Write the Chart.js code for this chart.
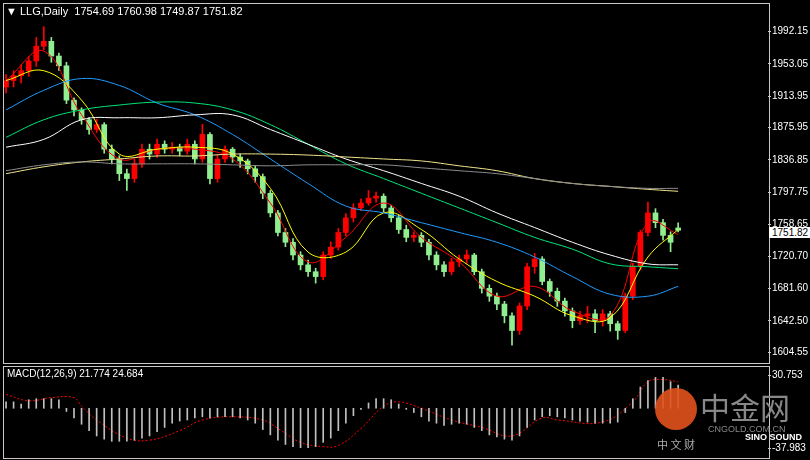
<!DOCTYPE html>
<html>
<head>
<meta charset="utf-8">
<script src="https://cdn.jsdelivr.net/npm/chart.js@4/dist/chart.umd.min.js"></script>
<style>
  body { margin: 0; background: #000; width: 810px; height: 460px; overflow: hidden; font-family: "Liberation Sans", Arial, sans-serif; }
  .wrap { position: absolute; left: 0; width: 810px; }
  .frame { position: absolute; border: 1px solid #c8c8c8; }
  .txt { position: absolute; color: #fff; font-size: 11px; white-space: pre; }
</style>
</head>
<body>
<div class="wrap" style="top:0;height:364px"><canvas id="priceChart"></canvas></div>
<div class="wrap" style="top:364px;height:96px"><canvas id="macdChart"></canvas></div>
<div class="frame" style="left:3px;top:3px;width:765px;height:359px"></div>
<div class="frame" style="left:3px;top:366px;width:765px;height:91px"></div>
<div class="txt" style="left:6px;top:5px">▼ LLG,Daily  1754.69 1760.98 1749.87 1751.82</div>
<div class="txt" style="left:7px;top:368px;font-size:10px">MACD(12,26,9) 21.774 24.684</div>
<div class="txt" style="left:769px;top:227px;background:#fff;color:#000;font-size:10px;padding:0 3px">1751.82</div>
<!-- watermark -->
<div style="position:absolute;left:655px;top:388px;width:42px;height:42px;border-radius:50%;background:#e2521d;opacity:.9"></div>
<div class="txt" style="left:700px;top:384px;font-size:30px;color:#888;font-family:'Noto Sans CJK SC'">中金网</div>
<div class="txt" style="left:708px;top:424px;font-size:9px;color:#888">CNGOLD.COM.CN</div>
<div class="txt" style="left:657px;top:436px;font-size:11px;color:#aaa;font-family:'Noto Sans CJK SC'">中 文 财</div>
<div class="txt" style="left:745px;top:432px;font-size:9px;color:#fff;font-weight:bold">SINO SOUND</div>

<script>
// daily OHLC, oldest first
const opens = [1925.0,1932.9,1938.8,1944.8,1956.6,1974.4,1980.3,1962.5,1950.7,1909.2,
  1897.4,1885.5,1873.7,1879.6,1849.9,1838.1,1820.3,1814.4,1832.2,1849.9,
  1844.0,1855.9,1849.9,1852.3,1847.6,1855.9,1838.1,1867.7,1814.4,1838.1,
  1849.9,1840.5,1835.7,1826.2,1816.8,1796.6,1772.9,1749.2,1737.4,1722.0,
  1710.1,1701.8,1695.9,1722.0,1731.5,1749.2,1767.0,1778.9,1784.8,1790.7,
  1793.1,1778.9,1767.0,1752.8,1743.3,1745.7,1737.4,1722.0,1710.1,1701.8,
  1713.7,1717.2,1722.0,1701.8,1681.7,1672.2,1662.7,1648.5,1630.7,1660.4,
  1707.8,1717.2,1690.0,1678.1,1666.3,1654.4,1642.6,1648.5,1650.9,1642.6,
  1650.9,1639.0,1630.7,1672.2,1707.8,1749.2,1772.9,1761.1,1745.7,1754.69];
const highs = [1940,1945,1952,1962,1985,1998,1985,1966,1955,1912,
  1900,1888,1886,1882,1855,1842,1826,1838,1856,1856,
  1862,1860,1858,1856,1862,1860,1880,1870,1843,1854,
  1852,1844,1838,1830,1820,1800,1776,1754,1742,1726,
  1716,1706,1726,1738,1754,1772,1784,1790,1800,1798,
  1796,1782,1770,1758,1750,1749,1741,1726,1714,1718,
  1722,1728,1724,1705,1686,1676,1666,1652,1664,1712,
  1724,1720,1693,1682,1670,1658,1654,1660,1656,1656,
  1654,1642,1676,1712,1752,1786,1778,1765,1750,1760.98];
const lows = [1918,1925,1930,1938,1950,1970,1955,1945,1905,1890,
  1880,1868,1870,1845,1832,1812,1800,1810,1828,1838,
  1840,1845,1845,1842,1844,1832,1834,1808,1810,1834,
  1834,1828,1820,1810,1790,1768,1745,1732,1716,1704,
  1696,1688,1692,1718,1728,1745,1762,1776,1782,1786,
  1774,1762,1748,1738,1738,1732,1716,1704,1696,1698,
  1708,1712,1698,1676,1666,1656,1640,1613,1626,1656,
  1700,1686,1672,1660,1648,1634,1638,1640,1628,1636,
  1630,1620,1628,1668,1704,1745,1755,1740,1726,1749.87];
const closes = [1932.9,1938.8,1944.8,1956.6,1974.4,1980.3,1962.5,1950.7,1909.2,1897.4,
  1885.5,1873.7,1879.6,1849.9,1838.1,1820.3,1814.4,1832.2,1849.9,1844.0,
  1855.9,1849.9,1852.3,1847.6,1855.9,1838.1,1867.7,1814.4,1838.1,1849.9,
  1840.5,1835.7,1826.2,1816.8,1796.6,1772.9,1749.2,1737.4,1722.0,1710.1,
  1701.8,1695.9,1722.0,1731.5,1749.2,1767.0,1778.9,1784.8,1790.7,1793.1,
  1778.9,1767.0,1752.8,1743.3,1745.7,1737.4,1722.0,1710.1,1701.8,1713.7,
  1717.2,1722.0,1701.8,1681.7,1672.2,1662.7,1648.5,1630.7,1660.4,1707.8,
  1717.2,1690.0,1678.1,1666.3,1654.4,1642.6,1648.5,1650.9,1642.6,1650.9,
  1639.0,1630.7,1672.2,1707.8,1749.2,1772.9,1761.1,1745.7,1737.4,1751.82];

// moving averages sampled at these bar indices
const maIdx = [0,5,10,15,20,25,30,35,40,45,50,55,60,65,70,75,80,85,89];
const maRed = [1932.9,1968.5,1891.4,1838.1,1849.9,1849.9,1838.1,1784.8,1713.7,1743.3,1784.8,1743.3,1713.7,1672.2,1684.1,1654.4,1648.5,1761.1,1746.9];
const maYellow = [1932.9,1944.8,1909.2,1844.0,1849.9,1852.3,1844.0,1802.6,1725.5,1725.5,1772.9,1752.8,1717.2,1690.0,1672.2,1648.5,1646.1,1719.6,1752.8];
const maBlue = [1897.4,1921.1,1935.3,1927.0,1905.7,1891.4,1867.7,1838.1,1808.5,1781.2,1772.9,1761.1,1749.2,1737.4,1719.6,1695.9,1674.6,1672.2,1684.1];
const maGreen = [1864.2,1885.5,1897.4,1903.3,1906.8,1905.7,1897.4,1879.6,1855.9,1832.2,1814.4,1796.6,1778.9,1761.1,1743.3,1729.1,1711.3,1707.8,1705.4];
const maWhite = [1852.3,1861.8,1885.5,1887.9,1887.9,1891.4,1891.4,1873.7,1855.9,1838.1,1823.9,1808.5,1793.1,1772.9,1755.2,1737.4,1722.0,1711.3,1710.1];
const maKhaki = [1820.3,1828.6,1834.5,1838.1,1841.7,1841.7,1844.0,1844.0,1842.8,1840.5,1838.1,1835.7,1829.8,1823.9,1814.4,1808.5,1804.9,1801.4,1799.0];
const maGray = [1823.9,1831.0,1834.5,1832.2,1832.2,1832.2,1831.0,1829.8,1831.0,1831.0,1831.0,1827.4,1823.9,1820.3,1814.4,1808.5,1804.9,1802.6,1802.6];

const priceTicks = [1992.15,1953.05,1913.95,1875.95,1836.85,1797.75,1758.65,1720.70,1681.60,1642.50,1604.55];

// MACD main (histogram) per bar and signal sampled
const macdHist = [6,6,4,8,9,9,9,8,-3,-9,
  -15,-21,-26,-29,-31,-31,-31,-30,-28,-26,
  -22,-18,-14,-12,-11,-9,-8,-9,-8,-8,
  -8,-9,-11,-14,-20,-25,-30,-34,-36,-37,
  -37,-36,-32,-28,-21,-14,-7,-1,5,9,
  9,8,4,-1,-4,-8,-12,-14,-16,-15,
  -14,-15,-18,-21,-25,-27,-29,-30,-26,-18,
  -11,-8,-7,-8,-9,-11,-12,-13,-14,-14,
  -14,-13,-4,9,20,26,29,29,25,21.774];
const sigIdx = [0,3,6,9,10,12,16,19,23,26,30,34,36,39,42,44,47,50,52,55,59,63,67,71,73,79,83,85,87,89];
const sigVals = [13,7,10,10,2,-11,-28,-30,-21,-11,-8,-11,-19,-32,-36,-35,-19,2,6,0,-11,-18,-26,-9,-11,-13,6,25,27,24.684];
const macdTicks = [30.753,-37.983];

const UP = '#ff0000', DOWN = '#90ee90';
const xMin = -0.27, xMax = 100.9;
const pts = (idx, vals) => idx.map((x, i) => ({ x, y: vals[i] }));
const barIdx = closes.map((_, i) => i);
const candleCol = closes.map((c, i) => c >= opens[i] ? UP : DOWN);

function maLine(vals, color) {
  return { type: 'line', data: pts(maIdx, vals), borderColor: color, borderWidth: 1,
    pointRadius: 0, tension: 0.4, fill: false };
}

function rightAxis(ticks, min, max, fmt) {
  return {
    position: 'right', min, max,
    afterFit: s => { s.width = 42; },
    afterBuildTicks: s => { s.ticks = ticks.map(v => ({ value: v })); },
    grid: { drawOnChartArea: false, color: '#c8c8c8', tickLength: 3 },
    border: { display: false },
    ticks: { color: '#fff', padding: 1, font: { size: 10, family: 'Liberation Sans' }, callback: fmt }
  };
}

const xAxis = { type: 'linear', min: xMin, max: xMax, display: false, offset: false };

new Chart(document.getElementById('priceChart'), {
  type: 'bar',
  data: {
    datasets: [
      maLine(maGray, '#8c8c8c'),
      maLine(maKhaki, '#f0e68c'),
      maLine(maWhite, '#ffffff'),
      maLine(maGreen, '#00e676'),
      maLine(maBlue, '#1e9bff'),
      maLine(maYellow, '#ffff00'),
      maLine(maRed, '#ff0000'),
      { data: barIdx.map(i => ({ x: i, y: [lows[i], highs[i]] })), backgroundColor: candleCol,
        barThickness: 1, grouped: false },
      { data: barIdx.map(i => ({ x: i, y: [opens[i], closes[i] === opens[i] ? opens[i] + 0.5 : closes[i]] })),
        backgroundColor: candleCol, barThickness: 5, grouped: false }
    ]
  },
  options: {
    responsive: true, maintainAspectRatio: false, animation: false,
    layout: { padding: { left: 4, top: 4, bottom: 2 } },
    plugins: { legend: { display: false }, tooltip: { enabled: false } },
    scales: {
      x: xAxis,
      y: rightAxis(priceTicks, 1598.7, 2021.8, v => v.toFixed(2))
    }
  }
});

new Chart(document.getElementById('macdChart'), {
  type: 'bar',
  data: {
    datasets: [
      { data: barIdx.map(i => ({ x: i, y: macdHist[i] })), backgroundColor: '#c0c0c0', barThickness: 1 },
      { type: 'line', data: pts(sigIdx, sigVals), borderColor: '#ff0000', borderWidth: 1,
        borderDash: [2, 2], pointRadius: 0, tension: 0.4 }
    ]
  },
  options: {
    responsive: true, maintainAspectRatio: false, animation: false,
    layout: { padding: { left: 4, top: 3, bottom: 3 } },
    plugins: { legend: { display: false }, tooltip: { enabled: false } },
    scales: {
      x: xAxis,
      y: rightAxis(macdTicks, -42, 35, v => v.toFixed(3))
    }
  }
});
</script>
</body>
</html>
